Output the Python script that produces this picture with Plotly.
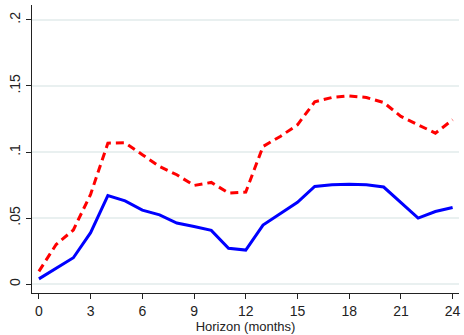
import plotly.graph_objects as go

# Horizon in months and the two estimated response paths
horizon = list(range(0, 25))
solid_series = [0.004, 0.012, 0.020, 0.039, 0.067, 0.063, 0.056, 0.0525, 0.0463, 0.0437,
                0.0407, 0.0271, 0.0258, 0.0447, 0.053, 0.0619, 0.074, 0.0752, 0.0757, 0.0752,
                0.0735, 0.0614, 0.050, 0.055, 0.058]
dashed_series = [0.0097, 0.030, 0.041, 0.068, 0.1067, 0.107, 0.098, 0.089, 0.0828, 0.0747,
                 0.077, 0.069, 0.0697, 0.1042, 0.1118, 0.1206, 0.138, 0.1413, 0.1425, 0.1413,
                 0.1375, 0.127, 0.1206, 0.1143, 0.1244]

x_ticks = [0, 3, 6, 9, 12, 15, 18, 21, 24]
y_ticks = [0, 0.05, 0.1, 0.15, 0.2]
y_tick_labels = ["0", ".05", ".1", ".15", ".2"]

fig = go.Figure()
fig.add_trace(go.Scatter(x=horizon, y=dashed_series, mode="lines",
                         line=dict(color="#ff0000", width=3, dash="8px,5px"),
                         showlegend=False))
fig.add_trace(go.Scatter(x=horizon, y=solid_series, mode="lines",
                         line=dict(color="#0000ff", width=3),
                         showlegend=False))

font_family = "Liberation Sans, Arial, sans-serif"
fig.update_layout(
    width=464, height=335,
    margin=dict(l=32, r=3, t=5, b=42),
    paper_bgcolor="white", plot_bgcolor="white",
    font=dict(family=font_family, color="#222222", size=13),
    xaxis=dict(
        range=[-0.4, 24.37], tickmode="array", tickvals=x_ticks,
        ticks="outside", ticklen=5, tickwidth=1, tickcolor="#222222",
        showline=True, linecolor="#222222", linewidth=1,
        showgrid=False, zeroline=False,
        tickfont=dict(size=14),
        title=dict(text="Horizon (months)", font=dict(size=13), standoff=2),
    ),
    yaxis=dict(
        range=[-0.0067, 0.2113], tickmode="array", tickvals=y_ticks, ticktext=y_tick_labels,
        ticks="outside", ticklen=5, tickwidth=1, tickcolor="#222222",
        showline=True, linecolor="#222222", linewidth=1,
        showgrid=True, gridcolor="#e9f0f0", gridwidth=1.5, zeroline=False,
        tickangle=-90, tickfont=dict(size=14),
    ),
)

fig.write_html("out.html")
